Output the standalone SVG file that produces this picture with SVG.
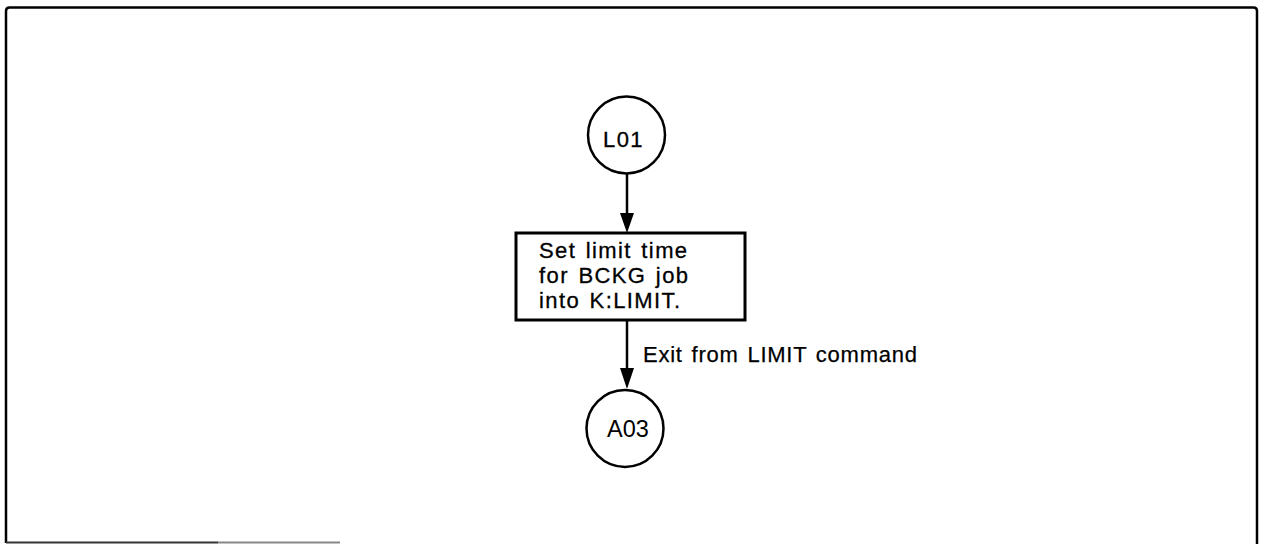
<svg xmlns="http://www.w3.org/2000/svg" width="1264" height="544" viewBox="0 0 1264 544">
<style>
.ln{fill:none;stroke:#000;stroke-width:2.5}
.bx{fill:#fff;stroke:#000;stroke-width:3}
.t{font-family:"Liberation Sans",Arial,sans-serif;font-size:22px;fill:#000;stroke:#000;stroke-width:0.3;letter-spacing:1.4px;word-spacing:2px}
.lb{font-family:"Liberation Sans",Arial,sans-serif;font-size:22px;fill:#000;stroke:#000;stroke-width:0.25;letter-spacing:0.75px;word-spacing:2px}
.h{font-family:"Liberation Sans",Arial,sans-serif;font-size:23.5px;fill:#000}
</style>
<rect width="1264" height="544" fill="#fff"/>
<g id="frame">
<path d="M6,543 V11 Q6,7.5 9.5,7.5 H1253.5 Q1257,7.5 1257,11 V544" fill="none" stroke="#000" stroke-width="2.5"/>
<line x1="6" y1="542.5" x2="218" y2="542.5" stroke="#333" stroke-width="2"/>
<line x1="218" y1="542.5" x2="340" y2="542.5" stroke="#888" stroke-width="2"/>
</g>
<g id="connectors">
<path class="ln" d="M627,173 V213" />
<path d="M620,213 L634,213 L627,233 Z" fill="#000"/>
<path class="ln" d="M627,320 V368" />
<path d="M620,368 L634,368 L627,389 Z" fill="#000"/>
<text class="lb" x="643" y="362">Exit from LIMIT command</text>
</g>
<g id="L01">
<circle cx="626.5" cy="135" r="38.5" class="ln"/>
<text class="t" x="603" y="147">L01</text>
</g>
<g id="setLimit">
<rect x="516" y="233" width="229" height="87" class="bx"/>
<text class="t" x="539" y="258">Set limit time</text>
<text class="t" x="539" y="283">for BCKG job</text>
<text class="t" x="539" y="308">into K:LIMIT.</text>
</g>
<g id="A03">
<circle cx="625" cy="428.5" r="38.5" class="ln"/>
<text class="h" x="607" y="437">A03</text>
</g>
</svg>
